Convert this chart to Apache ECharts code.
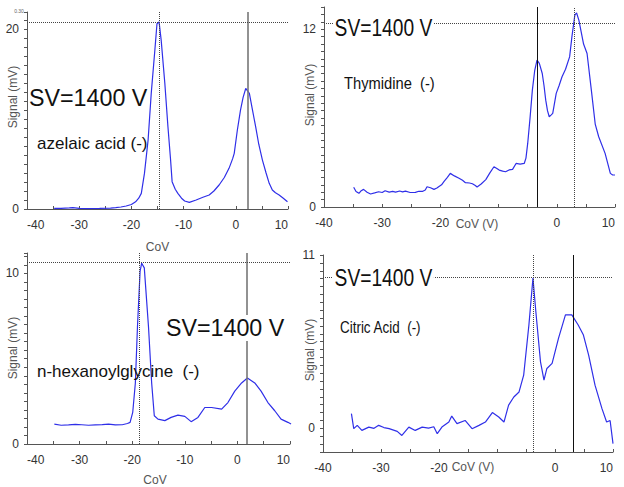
<!DOCTYPE html>
<html><head><meta charset="utf-8">
<script src="https://cdn.jsdelivr.net/npm/echarts@6/dist/echarts.min.js"></script>
<style>html,body{margin:0;padding:0;background:#fff}#c{width:624px;height:487px}</style>
</head><body><div id="c"></div>
<script>
// ---- data (CoV in V, Signal in mV) ----
const azelaic = [[-34.8,0.07],[-33.5,0.08],[-31.9,0.12],[-31.2,0.15],[-30,0.07],[-28,0.05],[-26.1,0.07],[-24,0.1],[-23,0.15],[-22,0.22],[-21,0.33],[-20,0.5],[-19.2,0.8],[-18.6,1.2],[-18.1,1.74],[-17.5,3.96],[-16.8,7.67],[-16.2,12.85],[-15.5,17.7],[-15.1,20.6],[-14.7,20.8],[-14.3,18.8],[-13.6,14.0],[-13,9.15],[-12.5,5.5],[-12.2,3.04],[-11.6,2.2],[-11.1,1.74],[-10.4,1.2],[-9.8,0.89],[-8.9,0.74],[-7.6,1.0],[-6.3,1.3],[-5.1,1.56],[-4.2,2.0],[-3.2,2.67],[-2.2,3.5],[-1.3,4.52],[-0.6,5.6],[-0.3,6.19],[0.3,8.78],[0.9,11.0],[1.4,12.4],[1.9,13.4],[2.6,12.85],[3.2,11.0],[3.8,9.15],[4.4,7.2],[5.1,5.44],[5.8,4.0],[6.4,2.85],[7.0,2.11],[7.6,1.8],[8.3,1.56],[9.1,1.2],[9.9,0.81]];
const thymidine = [[-34.9,1.33],[-34.5,1.05],[-34.0,0.92],[-33.6,1.1],[-33.2,1.19],[-32.6,1.0],[-32.0,0.88],[-31.3,0.95],[-30.6,1.03],[-30.0,0.98],[-29.5,1.1],[-28.8,1.0],[-28.2,1.05],[-27.7,1.0],[-27.0,1.08],[-26.5,1.02],[-26.0,1.07],[-25.2,0.98],[-24.3,0.99],[-23.7,1.06],[-23.1,1.05],[-22.6,1.15],[-22.3,1.37],[-21.7,1.3],[-21.1,1.19],[-20.6,1.28],[-20.3,1.37],[-19.8,1.5],[-19.4,1.71],[-18.8,2.0],[-18.3,2.27],[-17.6,2.1],[-16.8,1.94],[-16.2,1.8],[-15.7,1.64],[-15.0,1.62],[-14.5,1.57],[-14.0,1.45],[-13.7,1.35],[-13.0,1.55],[-12.2,1.85],[-11.5,2.3],[-10.8,2.72],[-10.3,2.6],[-9.9,2.49],[-9.3,2.42],[-8.8,2.38],[-8.2,2.5],[-7.6,2.54],[-7.0,2.94],[-6.3,2.9],[-5.6,2.94],[-5.3,3.3],[-5.0,4.29],[-4.6,6.0],[-4.2,7.89],[-3.8,9.2],[-3.4,9.91],[-3.0,9.7],[-2.5,9.01],[-2.2,8.2],[-1.9,7.21],[-1.6,6.5],[-1.3,6.09],[-1.0,6.2],[-0.7,6.32],[-0.4,7.0],[-0.1,7.67],[0.4,8.2],[0.9,8.79],[1.5,9.3],[2.2,10.13],[2.6,11.5],[3.1,12.95],[3.4,13.1],[3.8,12.6],[4.6,11.0],[5.2,10.36],[6.0,7.67],[6.6,5.6],[7.2,4.74],[8.3,3.62],[9.2,2.27],[9.6,2.16],[10.0,2.16]];
const hexanoylglycine = [[-34.8,1.17],[-33.5,1.1],[-32.1,1.12],[-30.8,1.15],[-29.6,1.13],[-28.3,1.1],[-27.0,1.12],[-25.7,1.14],[-24.5,1.17],[-23.2,1.12],[-21.9,1.13],[-20.9,1.2],[-20.4,1.27],[-19.9,1.85],[-19.4,3.58],[-19.0,6.86],[-18.5,10.13],[-18.2,10.6],[-17.7,10.33],[-16.9,6.86],[-16.3,3.58],[-15.8,1.66],[-15.1,1.46],[-13.8,1.37],[-12.6,1.56],[-11.3,1.69],[-10.0,1.62],[-8.8,1.31],[-7.5,1.56],[-6.2,2.14],[-4.9,2.14],[-3.0,2.04],[-1.8,2.43],[-0.5,3.1],[0.8,3.58],[1.9,3.87],[3.3,3.58],[4.5,3.1],[5.8,2.43],[7.1,1.95],[8.3,1.46],[9.6,1.27],[10.2,1.17]];
const citric = [[-35.1,0.93],[-34.7,-0.02],[-34.1,0.19],[-33.3,-0.13],[-32.1,0.08],[-31.2,0.0],[-30.4,0.19],[-29.5,0.05],[-28.6,-0.02],[-27.2,-0.19],[-26.4,-0.45],[-25.2,0.08],[-24.1,-0.13],[-22.9,0.08],[-21.8,0.02],[-20.9,0.1],[-20.3,-0.34],[-19.5,0.08],[-18.3,0.4],[-17.8,0.78],[-16.9,0.3],[-15.5,0.5],[-14.3,-0.02],[-13.1,0.19],[-12.0,0.4],[-10.8,1.0],[-9.7,0.72],[-8.8,0.4],[-8.0,1.47],[-7.1,1.99],[-6.2,2.31],[-5.4,3.38],[-4.5,6.56],[-3.8,9.53],[-3.3,7.4],[-2.5,4.22],[-1.9,3.06],[-1.4,3.8],[-0.5,4.12],[0.6,5.71],[1.8,7.2],[2.9,7.2],[4.0,6.56],[4.9,5.92],[5.8,4.65],[6.9,2.74],[8.1,1.25],[8.9,0.4],[9.5,0.5],[10.0,-0.97]];
const compounds = ['azelaic acid (-)', 'Thymidine  (-)', 'n-hexanoylglycine  (-)', 'Citric Acid  (-)'];
const dottedX = [-14.7, 3.0, -18.65, -3.8];
const solidX = [2.2, -3.4, 1.8, 3.2];
const dottedY = [20.8, 12.4, 10.68, 9.6];
const yLabels = [[0, 20], [0, 12], [0, 10], [0, 11]];
const xLabelsShort = [-40, -30, -20, 0, 10];

// ---- layout ----
const FONT = 'Liberation Sans, Arial, sans-serif';
const grids = [
  {left: 27, top: 12, width: 261, height: 197},
  {left: 324, top: 7, width: 291, height: 200},
  {left: 27, top: 253, width: 263, height: 194},
  {left: 323, top: 255, width: 290, height: 197}
];
const yRange = [[0, 21.9, 1], [0, 13.5, 0.5], [0, 11.2, 0.5], [-1.5, 11, 0.5]];
const xNames = ['CoV', 'CoV (V)', 'CoV', 'CoV (V)'];
const solidColors = ['#777', '#111', '#777', '#111'];
const solidWidths = [1.6, 1, 1.6, 1];
const seriesData = [azelaic, thymidine, hexanoylglycine, citric];

const xAxes = grids.map((g, i) => ({
  type: 'value', gridIndex: i, min: -40, max: 10, interval: 10,
  axisLine: {onZero: false, lineStyle: {color: '#555', width: 1}},
  axisTick: {inside: true, length: 3, lineStyle: {color: '#555'}},
  minorTick: {show: true, splitNumber: 2, length: 3, lineStyle: {color: '#555'}},
  splitLine: {show: false},
  axisLabel: {color: '#333', fontSize: 12, fontFamily: FONT, margin: 10,
    alignMinLabel: (i % 2 === 0) ? 'left' : 'center', alignMaxLabel: 'right',
    formatter: v => (i % 2 === 0 || xLabelsShort.indexOf(v) >= 0) ? String(v) : ''},
  name: (i % 2 === 0) ? xNames[i] : '',
  nameLocation: 'middle', nameGap: i === 0 ? 32 : 30,
  nameTextStyle: {color: '#555', fontSize: 12, fontFamily: FONT, padding: i === 2 ? [0, 7, 0, 0] : 0}
}));
const yAxes = grids.map((g, i) => ({
  type: 'value', gridIndex: i, min: yRange[i][0], max: yRange[i][1], interval: yRange[i][2],
  axisLine: {show: true, onZero: false, lineStyle: {color: '#555', width: 1}},
  axisTick: {show: true, length: 3, lineStyle: {color: '#555'}},
  splitLine: {show: false},
  axisLabel: {color: '#333', fontSize: 12, fontFamily: FONT, margin: 8,
    showMaxLabel: true,
    formatter: v => (yLabels[i].indexOf(Math.round(v * 100) / 100) >= 0 ? String(v) : '')}
}));
const series = seriesData.map((d, i) => ({
  type: 'line', xAxisIndex: i, yAxisIndex: i, data: d, showSymbol: false,
  lineStyle: {color: '#2f2fe8', width: 1.2}, itemStyle: {color: '#2f2fe8'},
  z: 3,
  markLine: {
    silent: true, symbol: 'none', label: {show: false}, animation: false,
    data: [
      {xAxis: dottedX[i], lineStyle: {type: 'dotted', color: '#444', width: 1}},
      {xAxis: solidX[i], lineStyle: {type: 'solid', color: solidColors[i], width: solidWidths[i]}},
      {yAxis: dottedY[i], lineStyle: {type: 'dotted', color: '#444', width: 1}}
    ]
  }
}));

function txt(x, y, text, size, opts) {
  opts = opts || {};
  return {
    type: 'text', x: x, y: y, z: 100, scaleX: opts.sx || 1, rotation: opts.rot || 0,
    style: {text: text, fontSize: size, fontFamily: FONT, fill: opts.fill || '#111',
      align: opts.align || 'left', verticalAlign: 'middle',
      backgroundColor: opts.bg || 'transparent', padding: opts.bg ? [1, 2, 1, 2] : 0}
  };
}
const graphics = [
  txt(29, 98, 'SV=1400 V', 24, {sx: 0.97}),
  txt(37, 143, compounds[0], 17),
  txt(333, 28, 'SV=1400 V', 24, {sx: 0.8, bg: '#fff'}),
  txt(344, 83, compounds[1], 16, {sx: 0.92}),
  txt(164, 328, 'SV=1400 V', 24, {sx: 0.97, bg: '#fff'}),
  txt(37, 371, compounds[2], 17),
  txt(333, 278, 'SV=1400 V', 24, {sx: 0.8, bg: '#fff'}),
  txt(340, 328, compounds[3], 16, {sx: 0.84}),
  txt(13, 97, 'Signal (mV)', 12, {rot: Math.PI / 2, align: 'center', fill: '#555'}),
  txt(310, 95, 'Signal (mV)', 12, {rot: Math.PI / 2, align: 'center', fill: '#555'}),
  txt(13, 348, 'Signal (mV)', 12, {rot: Math.PI / 2, align: 'center', fill: '#555'}),
  txt(310, 350, 'Signal (mV)', 12, {rot: Math.PI / 2, align: 'center', fill: '#555'}),
  txt(477, 224, xNames[1], 12, {align: 'center', fill: '#555'}),
  txt(473, 467, xNames[3], 12, {align: 'center', fill: '#555'}),
  txt(19, 11, '0.30', 5, {align: 'center', fill: '#666'})
];

const chart = echarts.init(document.getElementById('c'), null, {renderer: 'svg'});
chart.setOption({
  animation: false,
  backgroundColor: '#fff',
  grid: grids,
  xAxis: xAxes,
  yAxis: yAxes,
  series: series,
  graphic: {elements: graphics}
});
</script>
</body></html>
